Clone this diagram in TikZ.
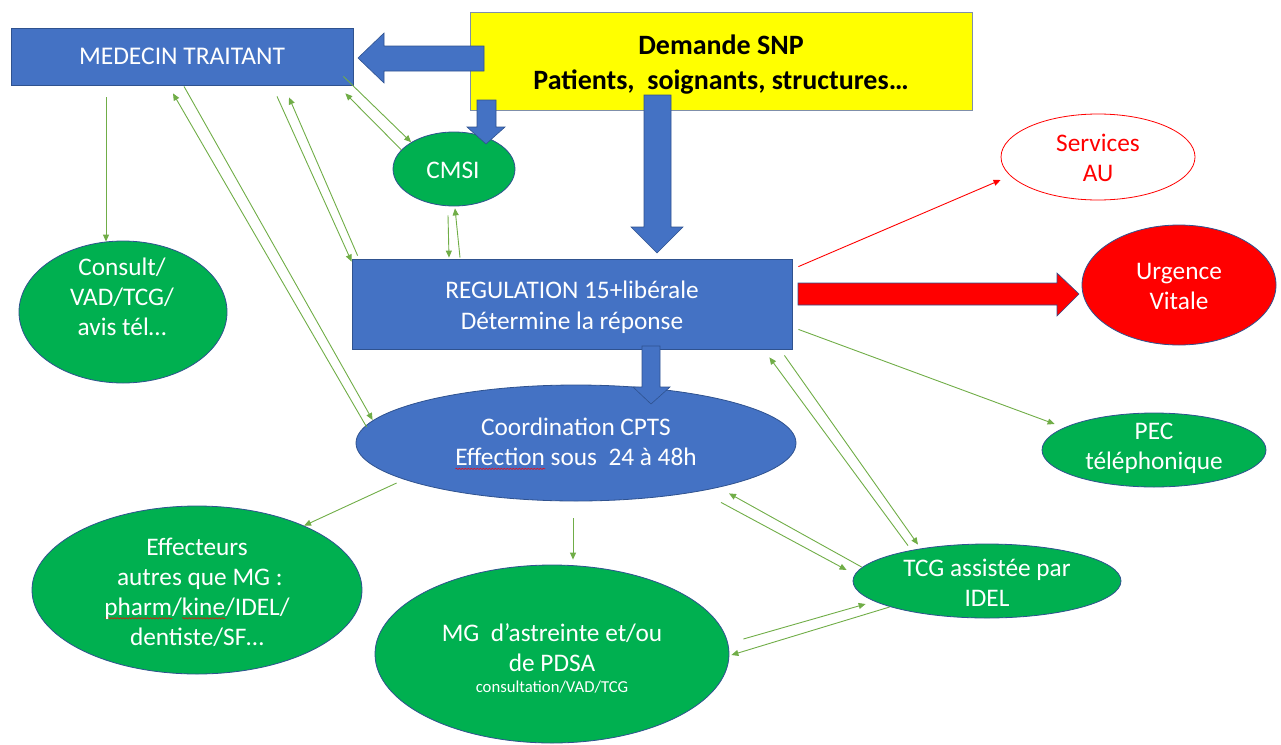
\documentclass[tikz,border=0pt]{standalone}
\usepackage{fontspec}
\setmainfont{Carlito}
\usetikzlibrary{shapes.geometric,arrows.meta,decorations.pathmorphing}
\definecolor{oblue}{HTML}{4472C4}
\definecolor{dblue}{HTML}{2F528F}
\definecolor{ogreen}{HTML}{00B050}
\definecolor{lgreen}{HTML}{70AD47}
\definecolor{ored}{HTML}{FF0000}
\definecolor{oyellow}{HTML}{FFFF00}
\definecolor{ygray}{HTML}{7F8FA9}
\newlength\wavelen
\newcommand\redwave[1]{\settowidth\wavelen{#1}\rlap{\raisebox{-4pt}{\tikz[x=1pt,y=1pt]\draw[ored, line width=0.5pt, decorate, decoration={snake, amplitude=0.7pt, segment length=3pt}] (0,0) -- (\wavelen,0);}}#1}
\tikzset{
  box/.style={draw=dblue, fill=oblue, line width=0.8pt, inner sep=0},
  ell/.style={ellipse, draw=dblue, line width=0.8pt, inner sep=0},
  gell/.style={ell, fill=ogreen},
  wtxt/.style={text=white, font=\fontsize{25.3}{30}\selectfont, align=center, inner sep=0},
  conn/.style={lgreen, line width=0.9pt, -{Triangle[length=7pt,width=6pt]}},
  redconn/.style={ored, line width=0.9pt, -{Triangle[length=7pt,width=6pt]}},
  blockarrow/.style={fill=oblue, draw=dblue, line width=0.6pt},
}
\begin{document}
\begin{tikzpicture}[x=1pt,y=-1pt]
\useasboundingbox (0,0) rectangle (1281,744);
% boxes
\node[box, minimum width=342, minimum height=57, text=white, font=\fontsize{25.5}{30}\selectfont] (medecin) at (182,56.5) {MEDECIN TRAITANT};
\node[draw=ygray, fill=oyellow, line width=0.8pt, minimum width=502, minimum height=98, inner sep=0] (snp) at (721,61) {};
\node[inner sep=0, align=center, font=\bfseries\fontsize{28}{35}\selectfont] (snp-t) at (721,64.5) {Demande SNP\\Patients,\ \ soignants, structures…};
\node[box, minimum width=440, minimum height=90] (regul) at (572,304) {};
\node[wtxt, font=\fontsize{25.3}{31}\selectfont] (regul-t) at (572,307) {REGULATION 15+libérale\\Détermine la réponse};
% ellipses
\node[gell, minimum width=122, minimum height=74] (cmsi) at (454,169) {};
\node[wtxt] (cmsi-t) at (453,170) {CMSI};
\node[ell, draw=ored, fill=white, minimum width=194, minimum height=86] (services) at (1098,157) {};
\node[wtxt, text=ored] (services-t) at (1098,158) {Services\\AU};
\node[ell, fill=ored, minimum width=194, minimum height=120] (urgence) at (1179,285) {};
\node[wtxt] (urgence-t) at (1179,286) {Urgence\\Vitale};
\node[gell, minimum width=208, minimum height=142] (consult) at (123,312) {};
\node[wtxt] (consult-t) at (122,297) {Consult/\\VAD/TCG/\\avis tél…};
\node[ell, fill=oblue, minimum width=440, minimum height=116] (coord) at (576,443) {};
\node[wtxt] (coord-t) at (576,444) {Coordination CPTS\\\redwave{Effection} sous\ \ 24 à 48h};
\node[gell, minimum width=224, minimum height=74] (pec) at (1154,450) {};
\node[wtxt] (pec-t) at (1154,448) {PEC\\téléphonique};
\node[gell, minimum width=330, minimum height=168] (effect) at (197,590) {};
\node[wtxt] (effect-t) at (197,592) {Effecteurs\\\ autres que MG :\\\redwave{pharm}/\redwave{kine}/IDEL/\\dentiste/SF…};
\node[gell, minimum width=354, minimum height=178] (mg) at (552,654) {};
\node[wtxt] (mg-t) at (552,648) {MG\ \ d’astreinte et/ou\\de PDSA};
\node[text=white, font=\fontsize{16.7}{20}\selectfont, inner sep=0] (mg-s) at (552,687) {consultation/VAD/TCG};
\node[gell, minimum width=268, minimum height=74] (tcg) at (987,581) {};
\node[wtxt] (tcg-t) at (987,583) {TCG assistée par\\IDEL};
% connectors
\draw[conn] ([shift={(-76,12)}]medecin.south) -- ([shift={(-17,1)}]consult.north);
\draw[conn] ([shift={(2,1)}]medecin.south) -- ([shift={(17,-23)}]coord.west);
\draw[conn] ([shift={(11,-16)}]coord.west) -- ([shift={(-9,8)}]medecin.south);
\draw[conn] ([shift={(6,-3)}]regul.north west) -- ([shift={(107,12)}]medecin.south);
\draw[conn] ([shift={(95,11)}]medecin.south) -- ([shift={(0,3)}]regul.north west);
\draw[conn] ([shift={(-10,-9)}]medecin.south east) -- (cmsi.148);
\draw[conn] (cmsi.160) -- ([shift={(-8,8)}]medecin.south east);
\draw[conn] ([shift={(-6,9)}]cmsi.south) -- ([shift={(-123,-1)}]regul.north);
\draw[conn] ([shift={(-112,-1)}]regul.north) -- ([shift={(1,2)}]cmsi.south);
\draw[redconn] ([shift={(6,8)}]regul.north east) -- ([shift={(0,23)}]services.west);
\draw[conn] ([shift={(6,-20)}]regul.south east) -- ([shift={(13,-26)}]pec.west);
\draw[conn] ([shift={(-79,2)}]tcg.north) -- ([shift={(-23,8)}]regul.south east);
\draw[conn] ([shift={(-8,6)}]regul.south east) -- ([shift={(-69,1)}]tcg.north);
\draw[conn] ([shift={(9,-14)}]tcg.west) -- ([shift={(153,-8)}]coord.south);
\draw[conn] ([shift={(145,1)}]coord.south) -- ([shift={(-6,-11)}]tcg.west);
\draw[conn] ([shift={(41,40)}]coord.west) -- (effect.31);
\draw[conn] ([shift={(-3,17)}]coord.south) -- ([shift={(21,-5)}]mg.north);
\draw[conn] ([shift={(14,-15)}]mg.east) -- ([shift={(13,23)}]tcg.west);
\draw[conn] ([shift={(37,26)}]tcg.west) -- ([shift={(2,1)}]mg.east);
% block arrows
\filldraw[blockarrow] (358,58) -- (384,33) -- (384,46) -- (484,46) -- (484,71) -- (384,71) -- (384,83) -- cycle;
\filldraw[blockarrow] (477,100) -- (496,100) -- (496,127) -- (505,127) -- (486,144) -- (467,127) -- (477,127) -- cycle;
\filldraw[blockarrow] (644,95) -- (671,95) -- (671,227) -- (683,227) -- (657,253) -- (631,227) -- (644,227) -- cycle;
\filldraw[blockarrow] (642,346) -- (660,346) -- (660,387) -- (670,387) -- (651,404) -- (633,387) -- (642,387) -- cycle;
\filldraw[fill=ored, draw=dblue, line width=0.6pt] (798,283) -- (1057,283) -- (1057,273) -- (1079,294) -- (1057,316) -- (1057,305) -- (798,305) -- cycle;
\end{tikzpicture}
\end{document}
